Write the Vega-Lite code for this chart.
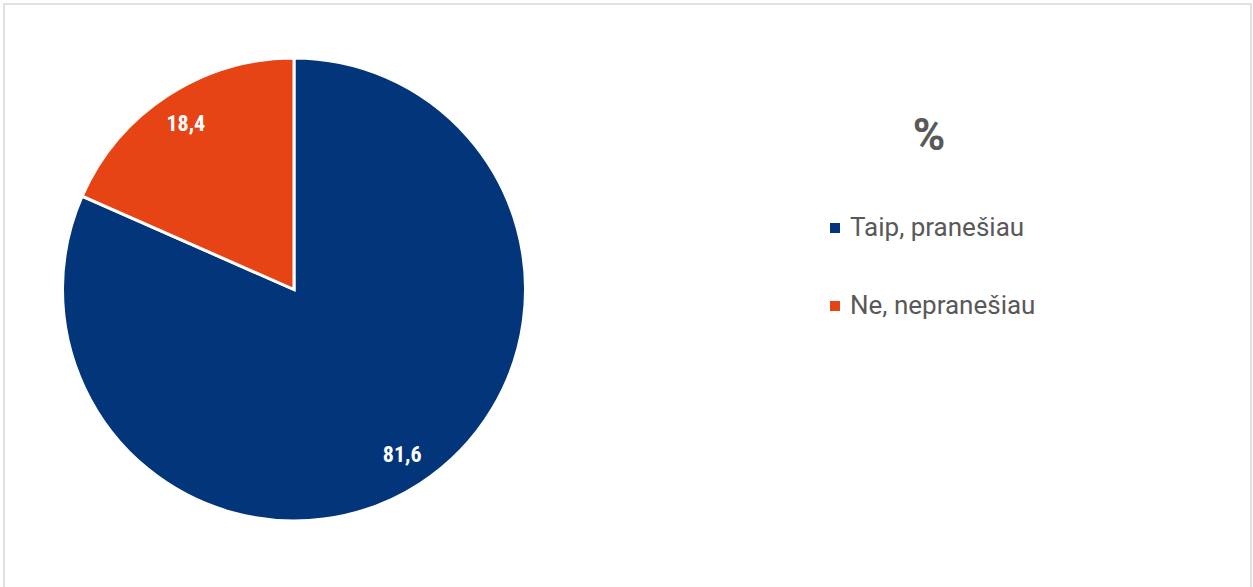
{
  "$schema": "https://vega.github.io/schema/vega-lite/v6.json",
  "width": 1247,
  "height": 590,
  "autosize": {"type": "none"},
  "padding": {"left": 4, "top": 4, "right": 2, "bottom": 0},
  "background": "white",
  "view": {"stroke": "#d9d9d9", "strokeWidth": 1.5, "fill": "white"},
  "data": {"values": [
    {"answer": "Taip, pranešiau", "value": 81.6, "label": "81,6", "idx": 1},
    {"answer": "Ne, nepranešiau", "value": 18.4, "label": "18,4", "idx": 2}
  ]},
  "encoding": {
    "theta": {"field": "value", "type": "quantitative", "stack": true},
    "order": {"field": "idx", "type": "quantitative"}
  },
  "layer": [
    {
      "mark": {"type": "arc", "x": 290, "y": 285.5, "outerRadius": 231.5, "stroke": "white", "strokeWidth": 3},
      "encoding": {
        "color": {
          "field": "answer", "type": "nominal",
          "scale": {"domain": ["Taip, pranešiau", "Ne, nepranešiau"], "range": ["#03357a", "#e64415"]},
          "legend": {
            "title": "%", "orient": "none", "legendX": 818, "legendY": 111,
            "titleFontSize": 44, "titleFont": "Roboto", "titleFontWeight": "bold", "titleColor": "#595959",
            "titleAnchor": "middle", "titlePadding": 56,
            "labelFont": "Roboto", "labelFontSize": 26, "labelColor": "#595959",
            "symbolType": "square", "symbolSize": 100, "symbolStrokeWidth": 0,
            "rowPadding": 52, "labelOffset": 2, "labelLimit": 400
          }
        }
      }
    },
    {
      "mark": {"type": "text", "x": 290, "y": 285.5, "radius": 198, "fill": "white", "font": "Roboto Condensed, Roboto", "fontWeight": "bold", "fontSize": 22},
      "encoding": {"text": {"field": "label", "type": "nominal"}}
    }
  ]
}
